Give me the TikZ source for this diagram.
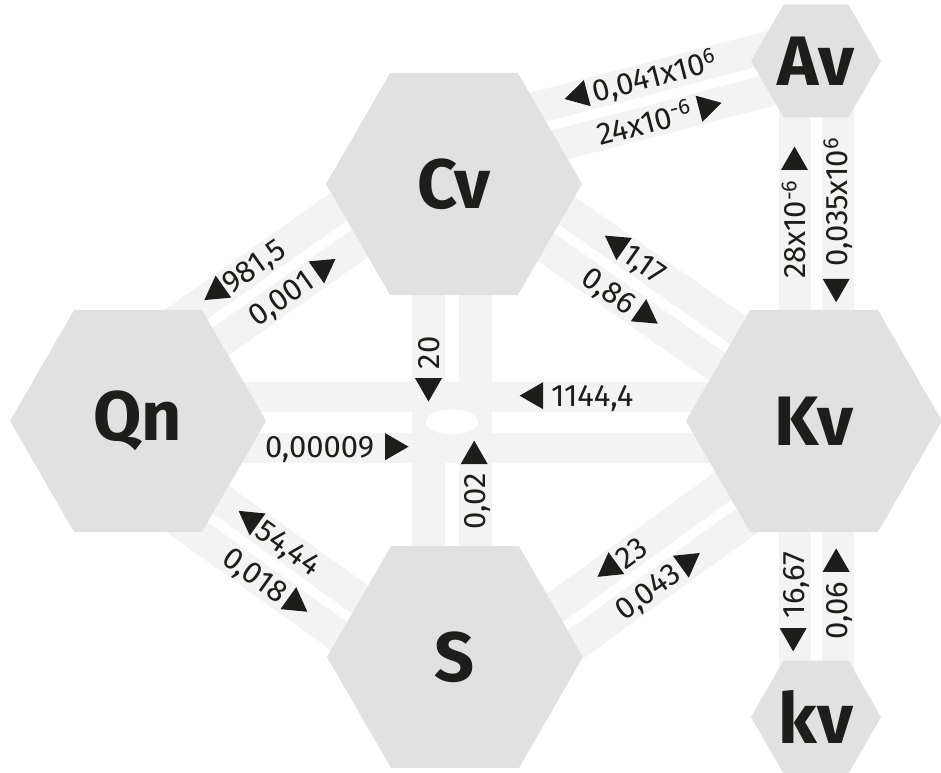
\documentclass[tikz,border=0pt]{standalone}
\usepackage{fontspec}
\setmainfont{Fira Sans}
\usetikzlibrary{shapes.geometric}
\definecolor{hexc}{HTML}{E1E1E1}
\definecolor{bandc}{HTML}{F3F3F3}
\definecolor{inkc}{HTML}{1D1D1B}
\newcommand\trR{\tikz[baseline={(0pt,-11pt)}]\fill[inkc] (-11.7pt,13.5pt) -- (11.7pt,0pt) -- (-11.7pt,-13.5pt) -- cycle;}
\newcommand\trL{\tikz[baseline={(0pt,-11pt)}]\fill[inkc] (11.7pt,13.5pt) -- (-11.7pt,0pt) -- (11.7pt,-13.5pt) -- cycle;}
\begin{document}
\begin{tikzpicture}[x=1pt,y=-1pt,
  band/.style={draw=bandc,line width=32pt},
  hexa/.style={regular polygon,regular polygon sides=6,fill=hexc,inner sep=0pt,
    font=\bfseries\fontsize{70}{70}\selectfont,text=inkc},
  lab/.style={inner sep=0pt,anchor=center,text=inkc,font=\fontsize{31}{31}\selectfont}]
\useasboundingbox (0,0) rectangle (941,772);
% band end points
\coordinate (qcu1) at (134.5,350.8); \coordinate (qcu2) at (363.3,189.4);
\coordinate (qcl1) at (158.7,385.2); \coordinate (qcl2) at (387.5,223.8);
\coordinate (qsu1) at (160.1,456.3); \coordinate (qsu2) at (387.9,619.3);
\coordinate (qsl1) at (135.7,490.5); \coordinate (qsl2) at (363.5,653.5);
\coordinate (cku1) at (504.4,167.0); \coordinate (cku2) at (783.1,361.7);
\coordinate (ckl1) at (480.4,201.4); \coordinate (ckl2) at (759.1,396.1);
\coordinate (sku1) at (473.4,666.6); \coordinate (sku2) at (765.1,455.6);
\coordinate (skl1) at (498.0,700.6); \coordinate (skl2) at (789.7,489.6);
\coordinate (cau1) at (470.3,124.8); \coordinate (cau2) at (838.1,29.2);
\coordinate (cal1) at (480.9,165.4); \coordinate (cal2) at (848.7,69.8);
\coordinate (akl1) at (794.5,61); \coordinate (akl2) at (794.5,421);
\coordinate (akr1) at (837.5,61); \coordinate (akr2) at (837.5,421);
\coordinate (kkl1) at (794.5,421); \coordinate (kkl2) at (794.5,717);
\coordinate (kkr1) at (837.5,421); \coordinate (kkr2) at (837.5,717);
\coordinate (csl1) at (428.5,184); \coordinate (csl2) at (428.5,657);
\coordinate (csr1) at (475.5,184); \coordinate (csr2) at (475.5,657);
\coordinate (qku1) at (138,397); \coordinate (qku2) at (814,397);
\coordinate (qkl1) at (138,448); \coordinate (qkl2) at (814,448);
% bands
\draw[band] (qcu1) -- (qcu2); \draw[band] (qcl1) -- (qcl2);
\draw[band] (qsu1) -- (qsu2); \draw[band] (qsl1) -- (qsl2);
\draw[band] (cku1) -- (cku2); \draw[band] (ckl1) -- (ckl2);
\draw[band] (sku1) -- (sku2); \draw[band] (skl1) -- (skl2);
\draw[band] (cau1) -- (cau2); \draw[band] (cal1) -- (cal2);
\draw[band] (akl1) -- (akl2); \draw[band] (akr1) -- (akr2);
\draw[band] (kkl1) -- (kkl2); \draw[band] (kkr1) -- (kkr2);
\draw[band,line width=33pt] (csl1) -- (csl2); \draw[band,line width=33pt] (csr1) -- (csr2);
\draw[band,line width=30pt] (qku1) -- (qku2); \draw[band,line width=30pt] (qkl1) -- (qkl2);
% hub
\fill[bandc] (412,382) rectangle (492,463);
\node[ellipse,fill=white,minimum width=52pt,minimum height=25pt,inner sep=0pt] (hub) at (452,422) {};
% hexagons
\node[hexa,minimum size=256pt] (Qn) at (138,421) {Qn};
\node[hexa,minimum size=256pt] (Cv) at (454,184) {Cv};
\node[hexa,minimum size=256pt] (Kv) at (814,421) {Kv};
\node[hexa,minimum size=256pt] (S) at (455,657) {S};
\node[hexa,minimum size=130pt] (Av) at (816,61) {Av};
\node[hexa,minimum size=130pt] (kv) at (816,717) {kv};
% labels
\node[lab,rotate=35.2] (l1) at (243.7,273.9) {\trL\hspace{2pt}981,5};
\node[lab,rotate=35.2] (l2) at (294.3,289.6) {0,001\hspace{8pt}\trR};
\node[lab,rotate=-34.9] (l3) at (633.4,257.1) {\trL\hspace{3pt}1,17};
\node[lab,rotate=-34.9] (l4) at (621.1,299.7) {0,86\hspace{6pt}\trR};
\node[lab,rotate=-35.6] (l5) at (277.6,540.4) {\trL\hspace{3pt}54,44};
\node[lab,rotate=-35.6] (l6) at (266.2,583.9) {0,018\hspace{5pt}\trR};
\node[lab,rotate=35.9] (l7) at (620.6,560.1) {\trL\hspace{3pt}23};
\node[lab,rotate=35.9] (l8) at (659.6,583.7) {0,043\hspace{5pt}\trR};
\node[lab,rotate=14.6] (l9) at (640.5,80.6) {\trL\hspace{6pt}0,041x10\textsuperscript{6}};
\node[lab,rotate=14.6] (l10) at (659.6,119) {24x10\textsuperscript{-6}\hspace{8pt}\trR};
\node[lab] (l11) at (576.5,397) {\trL\hspace{8pt}1144,4};
\node[lab] (l12) at (336.8,448) {0,00009\hspace{11pt}\trR};
\node[lab,rotate=90] (l13) at (428.5,369) {\trL\hspace{9pt}20};
\node[lab,rotate=90] (l14) at (475.5,485) {0,02\hspace{9pt}\trR};
\node[lab,rotate=90] (l15) at (794.5,212.5) {28x10\textsuperscript{-6}\hspace{10pt}\trR};
\node[lab,rotate=90] (l16) at (837.5,220) {\trL\hspace{12pt}0,035x10\textsuperscript{6}};
\node[lab,rotate=90] (l17) at (794.5,601.5) {\trL\hspace{10pt}16,67};
\node[lab,rotate=90] (l18) at (837.5,594) {0,06\hspace{10pt}\trR};
\end{tikzpicture}
\end{document}
